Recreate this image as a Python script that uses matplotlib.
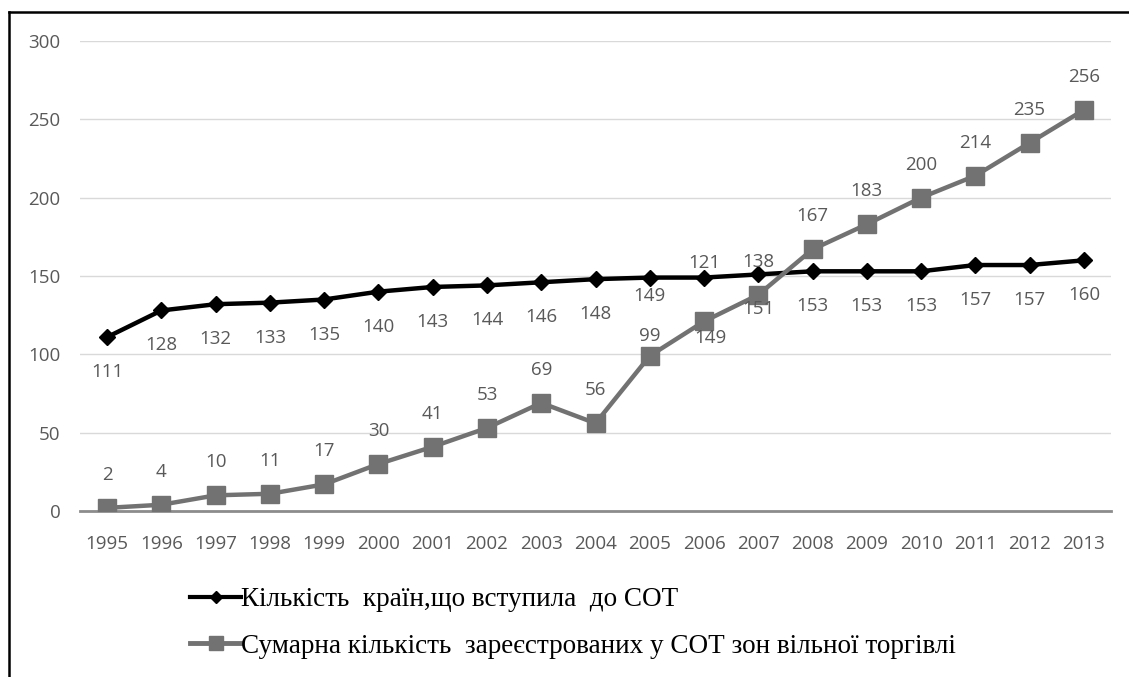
import matplotlib
matplotlib.use('Agg')
import matplotlib.pyplot as plt
from matplotlib.lines import Line2D

years = [str(y) for y in range(1995, 2014)]
wto_members = [111, 128, 132, 133, 135, 140, 143, 144, 146, 148,
               149, 149, 151, 153, 153, 153, 157, 157, 160]
fta_total = [2, 4, 10, 11, 17, 30, 41, 53, 69, 56,
             99, 121, 138, 167, 183, 200, 214, 235, 256]
label_members = 'Кількість  країн,що вступила  до СОТ'
label_fta = 'Сумарна кількість  зареєстрованих у СОТ зон вільної торгівлі'

W, H = 1129, 677
fig = plt.figure(figsize=(W / 100, H / 100), dpi=100)
ax = fig.add_axes([80 / W, (H - 511) / H, (1111 - 80) / W, (511 - 41) / H])

grey = '#727272'
tick_font = {'family': 'Open Sans', 'size': 13.5, 'color': '#595959'}
x = list(range(len(years)))

ax.plot(x, wto_members, color='black', lw=3.2, marker='D', ms=8.5,
        mfc='black', mec='black', zorder=3, label=label_members)
ax.plot(x, fta_total, color=grey, lw=3.2, marker='s', ms=12.5,
        mfc=grey, mec=grey, zorder=4, label=label_fta)

# data labels: black below, grey above, a few moved by hand like the original
black_off = {10: (0, -18), 11: (6, -60)}
grey_off = {10: (0, 20), 11: (0, 58)}
for i, v in enumerate(wto_members):
    dx, dy = black_off.get(i, (0, -35))
    ax.annotate(str(v), (i, v), xytext=(dx, dy), textcoords='offset pixels',
                ha='center', va='center', zorder=6, **tick_font)
for i, v in enumerate(fta_total):
    dx, dy = grey_off.get(i, (0, 33))
    ax.annotate(str(v), (i, v), xytext=(dx, dy), textcoords='offset pixels',
                ha='center', va='center', zorder=6, **tick_font)

ax.set_xlim(-0.5, len(years) - 0.5)
ax.set_ylim(0, 300)
ax.set_yticks(range(0, 301, 50))
ax.set_xticks(x)
ax.set_xticklabels(years)
for lab in ax.get_xticklabels() + ax.get_yticklabels():
    lab.set_fontfamily(tick_font['family'])
    lab.set_fontsize(tick_font['size'])
    lab.set_color(tick_font['color'])
ax.tick_params(axis='both', length=0)
ax.tick_params(axis='y', pad=14)
ax.tick_params(axis='x', pad=17)
ax.grid(axis='y', color='#d9d9d9', lw=1)
ax.set_axisbelow(True)
for s in ['top', 'right', 'left']:
    ax.spines[s].set_visible(False)
ax.spines['bottom'].set_color('#8c8c8c')
ax.spines['bottom'].set_linewidth(2)
ax.spines['bottom'].set_zorder(2)

handles = [Line2D([], [], color='black', lw=3, marker='D', ms=6),
           Line2D([], [], color=grey, lw=3.5, marker='s', ms=10)]
fig.legend(handles, [label_members, label_fta], loc='upper left',
           bbox_to_anchor=(190 / W, 1 - 587 / H), frameon=False,
           prop={'family': 'Liberation Serif', 'size': 19.5},
           handlelength=1.9, handletextpad=0.0, labelspacing=0.8,
           borderpad=0, borderaxespad=0)

# frame around the chart
fig.add_artist(Line2D([9 / W, 9 / W], [0, 1 - 12 / H], color='black', lw=1.8,
                      transform=fig.transFigure))
fig.add_artist(Line2D([9 / W, 1], [1 - 12 / H, 1 - 12 / H], color='black',
                      lw=1.8, transform=fig.transFigure))

fig.savefig('out.png', dpi=100)
